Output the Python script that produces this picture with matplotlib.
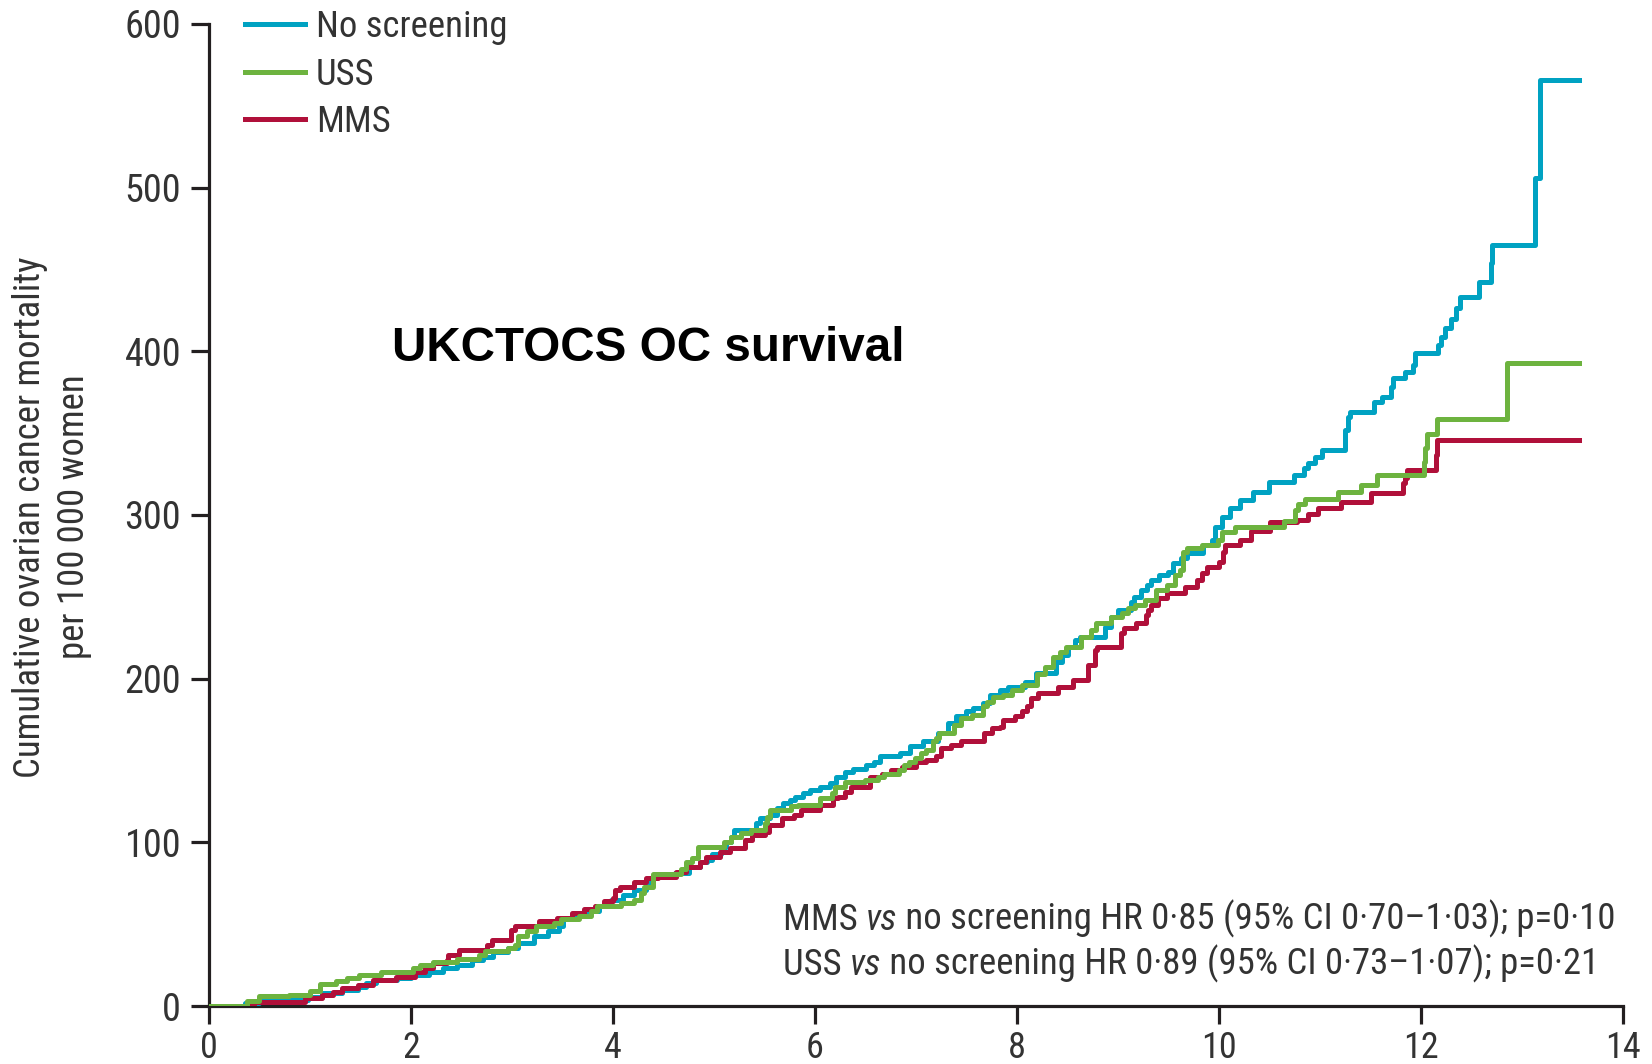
import numpy as np
from matplotlib import pyplot as plt


# Step times (years since randomisation) and cumulative deaths per 100 000 women
no_screen_t = [0, 0.36, 0.50, 0.98, 1.12, 1.32, 1.48, 1.55, 1.65, 1.86, 2.00, 2.18, 2.32, 2.46,
               2.60, 2.71, 2.81, 2.96, 3.06, 3.22, 3.36, 3.47, 3.50, 3.59, 3.73, 3.86, 3.98,
               4.10, 4.21, 4.33, 4.40, 4.61, 4.75, 4.86, 4.93, 4.98, 5.07, 5.12, 5.17, 5.20,
               5.42, 5.46, 5.55, 5.62, 5.68, 5.75, 5.80, 5.88, 5.95, 6.05, 6.15, 6.21, 6.30,
               6.38, 6.50, 6.58, 6.64, 6.84, 6.94, 7.07, 7.22, 7.32, 7.40, 7.49, 7.56, 7.66,
               7.73, 7.83, 7.91, 8.08, 8.19, 8.39, 8.45, 8.50, 8.57, 8.62, 8.87, 8.93, 9.00,
               9.13, 9.16, 9.23, 9.29, 9.33, 9.41, 9.49, 9.54, 9.62, 9.68, 9.84, 9.93, 9.96,
               10.03, 10.11, 10.21, 10.34, 10.49, 10.74, 10.84, 10.88, 10.95, 11.02, 11.25,
               11.28, 11.30, 11.53, 11.61, 11.70, 11.72, 11.84, 11.92, 11.94, 12.17, 12.20,
               12.24, 12.30, 12.35, 12.39, 12.57, 12.69, 12.70, 13.13, 13.18, 13.56]
no_screen_y = [0, 2, 3.7, 5.7, 7.8, 9.8, 11.9, 14, 16, 17, 19, 21, 23, 25,
               28, 30, 33, 35.5, 38.5, 42.6, 45.7, 48.8, 53, 56, 58, 61, 65,
               68, 71, 75, 79.5, 81.5, 85, 88, 89, 93, 97, 100, 103, 107.5,
               111.8, 114.7, 117, 120.8, 123.8, 125.9, 127.9, 130, 132, 134, 136, 140, 143,
               145, 147, 149.3, 152.5, 154.5, 158.6, 161.7, 166.8, 172.9, 177, 180, 182, 185,
               190, 193, 195, 198, 203.3, 210.4, 214.5, 219.5, 223.6, 225.6, 231.7, 237.9, 242,
               247, 250, 254, 257.2, 260.3, 263.3, 265.4, 270.6, 273.7, 276.7, 281.7, 284.7, 292.8,
               299, 304, 309, 314.2, 320, 324.4, 328.5, 331.5, 335.6, 340, 352,
               360, 363, 369, 372, 378, 383.7, 387.6, 391.6, 399, 404, 409,
               414, 419.8, 426.5, 433.4, 442.6, 454, 465, 506, 566, 566]

uss_t = [0, 0.38, 0.50, 0.79, 1.00, 1.10, 1.26, 1.37, 1.49, 1.70, 2.02, 2.09, 2.22, 2.46,
         2.67, 2.73, 2.96, 3.03, 3.06, 3.15, 3.24, 3.42, 3.49, 3.66, 3.78, 3.84, 4.08, 4.21,
         4.28, 4.31, 4.40, 4.67, 4.72, 4.78, 4.84, 5.10, 5.17, 5.27, 5.37, 5.50, 5.52, 5.55,
         5.76, 5.83, 6.05, 6.17, 6.20, 6.30, 6.49, 6.62, 6.68, 6.83, 6.88, 6.93, 6.99, 7.05,
         7.10, 7.17, 7.20, 7.23, 7.38, 7.45, 7.55, 7.66, 7.70, 7.76, 7.86, 7.95, 8.05, 8.20,
         8.28, 8.36, 8.43, 8.48, 8.63, 8.73, 8.78, 8.93, 9.04, 9.10, 9.17, 9.27, 9.38, 9.48,
         9.56, 9.61, 9.64, 9.68, 9.83, 9.99, 10.03, 10.16, 10.64, 10.75, 10.78, 10.85, 11.18,
         11.41, 11.56, 12.03, 12.04, 12.06, 12.16, 12.85, 13.56]
uss_y = [0, 3, 6, 7, 9.4, 13.5, 15.4, 17.4, 19, 20.5, 23, 25, 27, 29,
         31, 33.4, 35.5, 37.5, 42.6, 45.7, 48.8, 50.8, 53, 55, 58, 61, 63, 65,
         69, 73, 80.5, 83.6, 87.7, 90.2, 97, 100, 103.4, 105.5, 107.5, 111.8, 115.7, 120,
         122, 123, 127, 130, 134, 137, 138, 140, 142, 144, 147.2, 149.3, 151.5, 154.5,
         156.4, 161.7, 163.7, 166.8, 171.7, 176, 178, 183, 186, 189, 190, 193, 196, 203,
         207.3, 213, 216, 219.5, 225.6, 229.7, 234, 237.9, 240, 243, 245, 248, 254, 257.2,
         263.3, 266.4, 277.6, 279.8, 281.7, 284.7, 289.8, 292.8, 296.5, 303, 307, 310, 314,
         318.3, 324.4, 332.6, 341, 349.5, 358.6, 393, 393]

mms_t = [0, 0.45, 0.95, 1.12, 1.23, 1.32, 1.48, 1.62, 1.85, 2.04, 2.14, 2.22, 2.36, 2.37,
         2.48, 2.75, 2.80, 2.99, 3.03, 3.27, 3.45, 3.59, 3.71, 3.82, 3.91, 4.00, 4.02, 4.07,
         4.21, 4.33, 4.45, 4.62, 4.72, 4.86, 4.92, 5.06, 5.16, 5.31, 5.38, 5.50, 5.54, 5.67,
         5.79, 5.86, 6.05, 6.18, 6.23, 6.30, 6.36, 6.54, 6.66, 6.75, 6.86, 7.00, 7.10, 7.20,
         7.25, 7.35, 7.45, 7.67, 7.75, 7.83, 7.86, 7.98, 8.05, 8.10, 8.14, 8.21, 8.41, 8.55,
         8.70, 8.77, 8.79, 9.03, 9.06, 9.18, 9.28, 9.30, 9.33, 9.40, 9.48, 9.66, 9.78, 9.83,
         9.88, 10.00, 10.04, 10.06, 10.21, 10.32, 10.50, 10.77, 10.88, 10.98, 11.21, 11.50,
         11.82, 11.84, 11.86, 12.15, 12.16, 13.56]
mms_y = [0, 2.7, 4.7, 6.8, 8.8, 11, 13, 16, 18, 21, 23, 26, 28, 31,
         34.4, 37.5, 40.6, 46.7, 48.8, 51.8, 54, 57, 59, 61, 64, 66, 71, 73,
         76, 78.5, 79, 82, 85, 88.2, 91.2, 94.3, 96.4, 101.4, 104.5, 106.5, 110.6, 114.7,
         116.7, 119.7, 123, 127, 128, 131, 134, 140, 142, 144, 146, 149.3, 150.3, 152.5,
         157.5, 159.7, 161.7, 166.8, 169.8, 170.6, 174.7, 177, 180, 183, 188, 191, 195, 199,
         208.3, 217.5, 219.5, 228, 231, 233.8, 239, 242, 245, 249.3, 252.3, 256, 260.3, 264.3,
         268.4, 271.5, 277.6, 281.7, 284.7, 290, 296, 297, 300.6, 304, 308, 313.2,
         319.3, 322.4, 327.2, 336.6, 346, 346]

series_names = ['No screening', 'USS', 'MMS']
series_colors = ['#00a2c2', '#6db33f', '#b0103a']

x_ticks = [0, 2, 4, 6, 8, 10, 12, 14]
y_ticks = [0, 100, 200, 300, 400, 500, 600]

ylabel_text = 'Cumulative ovarian cancer mortality\nper 100\u2009000 women'
title_text = 'UKCTOCS OC survival'
hr_lines = [('MMS ', ' no screening HR 0\u00b785 (95% CI 0\u00b770\u20131\u00b703); p=0\u00b710'),
            ('USS ', ' no screening HR 0\u00b789 (95% CI 0\u00b773\u20131\u00b707); p=0\u00b721')]

# Fonts: narrow sans for the Myriad-looking labels
plt.rcParams['font.family'] = ['Roboto Condensed', 'Liberation Sans Narrow', 'Roboto', 'DejaVu Sans']
ink = '#231f20'
txt = '#333333'
fs = 26.5

fig = plt.figure(figsize=(16.52, 10.64), dpi=100)
ax = fig.add_axes([0.1265, 0.0545, 0.856, 0.923])

# draw the three KM-type curves (green on top like the original)
h_blue, = ax.step(no_screen_t, no_screen_y, where='post', color=series_colors[0], lw=3.6, zorder=3)
h_red, = ax.step(mms_t, mms_y, where='post', color=series_colors[2], lw=3.6, zorder=4)
h_green, = ax.step(uss_t, uss_y, where='post', color=series_colors[1], lw=3.6, zorder=5)

ax.set_xlim(0, 14)
ax.set_ylim(0, 600)
ax.set_xticks(x_ticks)
ax.set_yticks(y_ticks)

# axes look
for s in ['top', 'right']:
    ax.spines[s].set_visible(False)
for s in ['left', 'bottom']:
    ax.spines[s].set_color(ink)
    ax.spines[s].set_linewidth(2.3)
ax.tick_params(direction='out', length=13, width=2.3, color=ink, labelcolor=txt,
               labelsize=27.5, pad=7)
ax.tick_params(axis='x', labelsize=26, pad=4)

# legend in the original order
leg = ax.legend([h_blue, h_green, h_red], series_names, loc='upper left',
                bbox_to_anchor=(0.0255, 1.015), frameon=False, fontsize=fs,
                handlelength=1.63, handletextpad=0.3, labelspacing=0.31,
                borderpad=0, borderaxespad=0)
for t in leg.get_texts():
    t.set_color(txt)

# y label
fig.text(0.0315, 0.514, ylabel_text, rotation=90, ha='center', va='center',
         fontsize=fs, color=txt, linespacing=1.3, multialignment='center')

# chart title inside the plot
ax.text(1.81, 402, title_text, fontsize=34.3, fontweight='bold', color='black',
        family=['Liberation Sans', 'DejaVu Sans'], va='center', ha='left')

# hazard ratio notes, "vs" in italics
y_pos = [52.5, 25]
for (first, rest), yy in zip(hr_lines, y_pos):
    t1 = ax.text(5.68, yy, first, fontsize=fs, color=txt, va='center', ha='left')
    t2 = ax.annotate('vs', xy=(1, 0), xycoords=t1, va='bottom', ha='left',
                     fontsize=fs, color=txt, style='italic')
    ax.annotate(rest, xy=(1, 0), xycoords=t2, va='bottom', ha='left',
                fontsize=fs, color=txt)

fig.savefig('out.png', dpi=100)
